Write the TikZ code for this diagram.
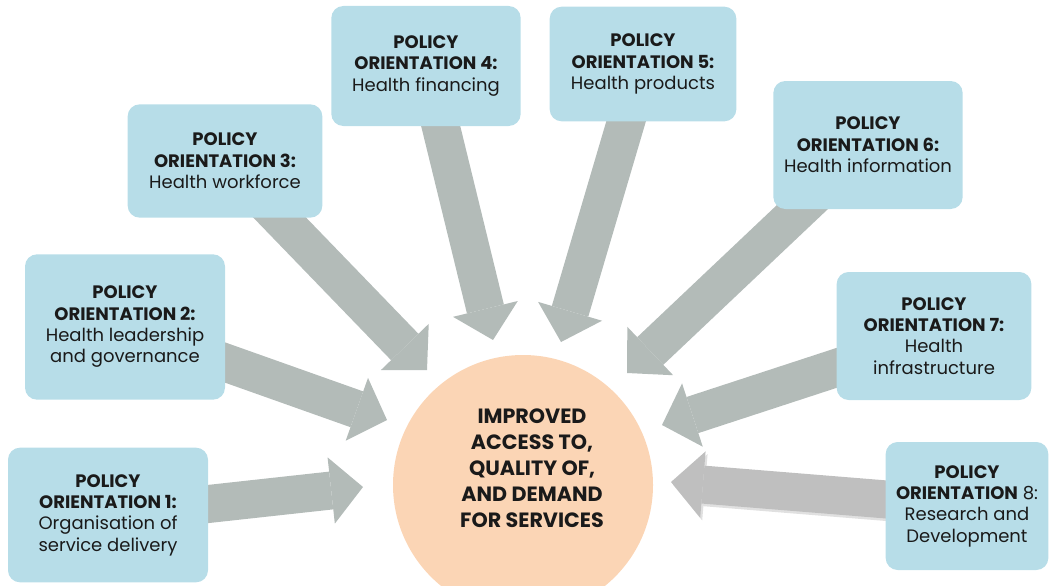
\documentclass[tikz,border=0pt]{standalone}
\usepackage{fontspec}
\setmainfont{Poppins}
\usetikzlibrary{arrows.meta,backgrounds}
\definecolor{boxblue}{HTML}{B7DDE8}
\definecolor{hubpeach}{HTML}{FBD5B5}
\definecolor{arrowgrey}{HTML}{B3BBB8}
\definecolor{arrowlight}{HTML}{BFBFBF}
\definecolor{txt}{HTML}{1A1A1A}
\newcommand{\orient}[2]{\textbf{POLICY}\\\textbf{ORIENTATION #1:}\\#2}

\begin{document}
\begin{tikzpicture}[x=0.75pt,y=-0.75pt,every text node part/.style={align=center},
  policy/.style={fill=boxblue, rounded corners=9pt, text=txt, inner sep=0pt, font=\fontsize{13.5}{16}\selectfont},
  hub/.style={circle, fill=hubpeach, minimum size=195pt, inner sep=0pt},
  goaltext/.style={text=txt, font=\bfseries\fontsize{15.5}{19.5}\selectfont},
  flow/.style={draw=arrowgrey, line width=28.5pt, -{Triangle[length=24pt, width=50pt, line width=0pt]}}]
\useasboundingbox (0,0) rectangle (1055,585);

\node[hub, label={[goaltext, xshift=6.75pt, yshift=12.75pt]center:IMPROVED\\ACCESS TO,\\QUALITY OF,\\AND DEMAND\\FOR SERVICES}] (hub) at (523,485) {};

\node[policy, minimum width=150pt, minimum height=101pt] (b1) at (108,515) {\orient{1}{Organisation of\\service delivery}};
\node[policy, minimum width=150pt, minimum height=109pt] (b2) at (125,327) {\orient{2}{Health leadership\\and governance}};
\node[policy, minimum width=146pt, minimum height=85pt] (b3) at (225,161) {\orient{3}{Health workforce}};
\node[policy, minimum width=142pt, minimum height=90pt] (b4) at (426,66) {\orient{4}{Health financing}};
\node[policy, minimum width=140pt, minimum height=86pt] (b5) at (643,64) {\orient{5}{Health products}};
\node[policy, minimum width=142pt, minimum height=96pt] (b6) at (868,145) {\orient{6}{Health information}};
\node[policy, minimum width=146pt, minimum height=96pt] (b7) at (934,336) {\orient{7}{Health\\infrastructure}};
\node[policy, minimum width=122pt, minimum height=96pt] (b8) at (967,506) {\textbf{POLICY}\\\textbf{ORIENTATION} 8:\\Research and\\Development};

% arrow tips next to the hub
\foreach \i/\p in {1/{363,487}, 2/{387,420}, 3/{427,370}, 4/{493,340}, 5/{561,342}, 6/{627,373}, 7/{662,425}, 8/{671,482}}
  \coordinate (t\i) at (\p);

\begin{scope}[on background layer]
\foreach \i in {1,...,7}
  \draw[flow] (b\i.center) -- (t\i);
\draw[flow, draw=black, opacity=0.12, transform canvas={shift={(1.5pt,-2pt)}}] (b8.center) -- (t8);
\draw[flow, draw=arrowlight] (b8.center) -- (t8);
\end{scope}
\end{tikzpicture}
\end{document}
